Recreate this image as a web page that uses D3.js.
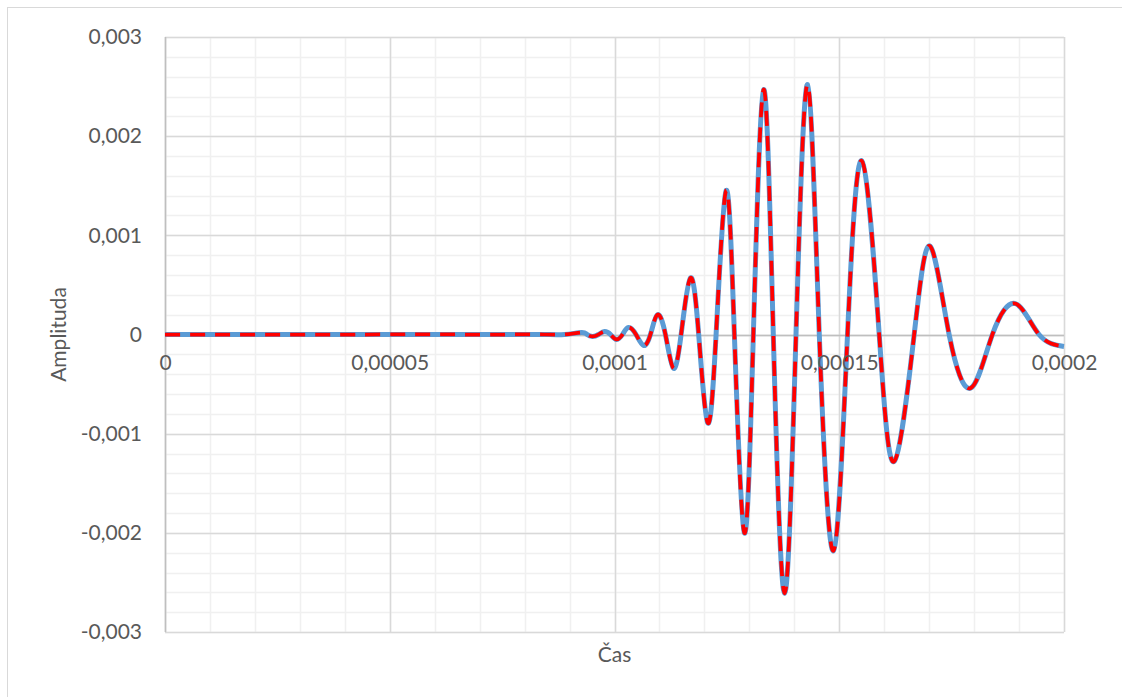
<!DOCTYPE html>
<html>
<head>
<meta charset="utf-8">
<script src="https://cdn.jsdelivr.net/npm/d3@7"></script>
<style>
  body { margin: 0; background: #fff; }
  text { font-family: Lato, "Open Sans", "Liberation Sans", sans-serif; fill: #595959; }
</style>
</head>
<body>
<svg id="chart"></svg>
<script>
// time (s) at extrema and zero crossings
var cas = [
  0, 0.00004444, 0.00006667, 0.00007778, 0.00008444, 0.00008889,
  0.00009267, 0.00009389, 0.00009511, 0.00009644, 0.00009778, 0.00009911,
  0.00010044, 0.00010178, 0.00010311, 0.00010478, 0.00010644, 0.00010800, 0.00010956,
  0.00011133, 0.00011311, 0.00011482, 0.00011689, 0.00011873, 0.00012073, 0.00012260,
  0.00012482, 0.00012667, 0.00012889, 0.00013089, 0.00013318, 0.00013533, 0.00013784,
  0.00014038, 0.00014296, 0.00014556, 0.00014873, 0.00015184, 0.00015504, 0.00015889,
  0.00016222, 0.00016667, 0.00017022, 0.00017444, 0.00017927, 0.00018407, 0.00018927,
  0.00019444, 0.00020000
]

// amplitude, series 1 (blue, solid)
var amplituda1 = [
  0, 0, 0, 0, 0, 0,
  0.00002, 0, -0.00002, 0, 0.00003, 0,
  -0.00005, 0, 0.00007, 0, -0.00011, 0, 0.00020,
  0, -0.00034, 0, 0.00057, 0, -0.00089, 0,
  0.00145, 0, -0.00200, 0, 0.00247, 0, -0.00261,
  0, 0.00252, 0, -0.00218, 0, 0.00175, 0,
  -0.00128, 0, 0.00089, 0, -0.00054, 0, 0.00031,
  0, -0.00012
]

// amplitude, series 2 (red, dashed) - lies on top of series 1
var amplituda2 = amplituda1.slice()

var xTicks = [0, 0.00005, 0.0001, 0.00015, 0.0002]
var yTicks = [-0.003, -0.002, -0.001, 0, 0.001, 0.002, 0.003]

var dimensions = {
  width: 1122,
  height: 697,
  margin: { top: 37, bottom: 65, left: 165, right: 58 }
}

var svg = d3.select("#chart")
  .attr("width", dimensions.width)
  .attr("height", dimensions.height)

// outer chart border
svg.append("rect")
  .attr("x", 7.5).attr("y", 7.5)
  .attr("width", 1140).attr("height", 710)
  .attr("fill", "none")
  .attr("stroke", "#d9d9d9")

var xScale = d3.scaleLinear()
  .domain([0, 0.0002])
  .range([dimensions.margin.left, dimensions.width - dimensions.margin.right])

var yScale = d3.scaleLinear()
  .domain([-0.003, 0.003])
  .range([dimensions.height - dimensions.margin.bottom, dimensions.margin.top])

var locale = d3.formatLocale({ decimal: ",", thousands: " ", grouping: [3], currency: ["", ""], minus: "-" })
var fmt = d => d === 0 ? "0" : locale.format(".6~f")(d)

// gridlines
var xMinor = d3.range(0, 0.0002 + 1e-9, 0.00001)
var yMinor = d3.range(-0.003, 0.003 + 1e-9, 0.0002)

var grid = svg.append("g")
grid.selectAll(".vmin").data(xMinor).enter().append("line")
  .attr("x1", d => Math.round(xScale(d)) + 0.5).attr("x2", d => Math.round(xScale(d)) + 0.5)
  .attr("y1", yScale.range()[1]).attr("y2", yScale.range()[0])
  .attr("stroke", "#f0f0f0").attr("stroke-width", 1.5)
grid.selectAll(".hmin").data(yMinor).enter().append("line")
  .attr("y1", d => Math.round(yScale(d)) + 0.5).attr("y2", d => Math.round(yScale(d)) + 0.5)
  .attr("x1", xScale.range()[0]).attr("x2", xScale.range()[1])
  .attr("stroke", "#f0f0f0").attr("stroke-width", 1.5)
grid.selectAll(".vmaj").data(xTicks).enter().append("line")
  .attr("x1", d => Math.round(xScale(d)) + 0.5).attr("x2", d => Math.round(xScale(d)) + 0.5)
  .attr("y1", yScale.range()[1]).attr("y2", yScale.range()[0])
  .attr("stroke", "#d9d9d9").attr("stroke-width", 1.5)
grid.selectAll(".hmaj").data(yTicks).enter().append("line")
  .attr("y1", d => Math.round(yScale(d)) + 0.5).attr("y2", d => Math.round(yScale(d)) + 0.5)
  .attr("x1", xScale.range()[0]).attr("x2", xScale.range()[1])
  .attr("stroke", "#d9d9d9").attr("stroke-width", 1.5)

// axis lines
svg.append("line")
  .attr("x1", xScale(0) + 0.5).attr("x2", xScale(0) + 0.5)
  .attr("y1", yScale.range()[1]).attr("y2", yScale.range()[0])
  .attr("stroke", "#bfbfbf").attr("stroke-width", 1.5)
svg.append("line")
  .attr("y1", Math.round(yScale(0)) + 0.5).attr("y2", Math.round(yScale(0)) + 0.5)
  .attr("x1", xScale.range()[0]).attr("x2", xScale.range()[1])
  .attr("stroke", "#bfbfbf").attr("stroke-width", 1.5)

// series
var line = d3.line()
  .x(d => xScale(d[0]))
  .y(d => yScale(d[1]))
  .curve(d3.curveNatural)

svg.append("path")
  .datum(cas.map((t, i) => [t, amplituda1[i]]))
  .attr("d", line)
  .attr("fill", "none")
  .attr("stroke", "#5b9bd5")
  .attr("stroke-width", 5)
  .attr("stroke-linejoin", "round")

svg.append("path")
  .datum(cas.map((t, i) => [t, amplituda2[i]]))
  .attr("d", line)
  .attr("fill", "none")
  .attr("stroke", "#ff0000")
  .attr("stroke-width", 3.75)
  .attr("stroke-dasharray", "15 10")
  .attr("stroke-linejoin", "round")

// axes (labels only)
var xAxisGen = d3.axisBottom(xScale).tickValues(xTicks).tickFormat(fmt).tickSize(0).tickPadding(21)
svg.append("g")
  .attr("transform", `translate(0,${yScale(0)})`)
  .call(xAxisGen)
  .call(g => g.select(".domain").remove())
  .selectAll("text").style("font-size", "21px").attr("fill", "#595959")
  .style("font-family", "Lato, 'Open Sans', sans-serif")

var yAxisGen = d3.axisLeft(yScale).tickValues(yTicks).tickFormat(fmt).tickSize(0).tickPadding(23)
svg.append("g")
  .attr("transform", `translate(${xScale(0)},0)`)
  .call(yAxisGen)
  .call(g => g.select(".domain").remove())
  .selectAll("text").style("font-size", "21px").attr("fill", "#595959")
  .style("font-family", "Lato, 'Open Sans', sans-serif")

// titles
svg.append("text")
  .attr("x", xScale(0.0001))
  .attr("y", 662)
  .attr("text-anchor", "middle")
  .style("font-size", "21px")
  .text("Čas")

svg.append("text")
  .attr("transform", `translate(66,${yScale(0)}) rotate(-90)`)
  .attr("text-anchor", "middle")
  .style("font-size", "21px")
  .text("Amplituda")
</script>
</body>
</html>
